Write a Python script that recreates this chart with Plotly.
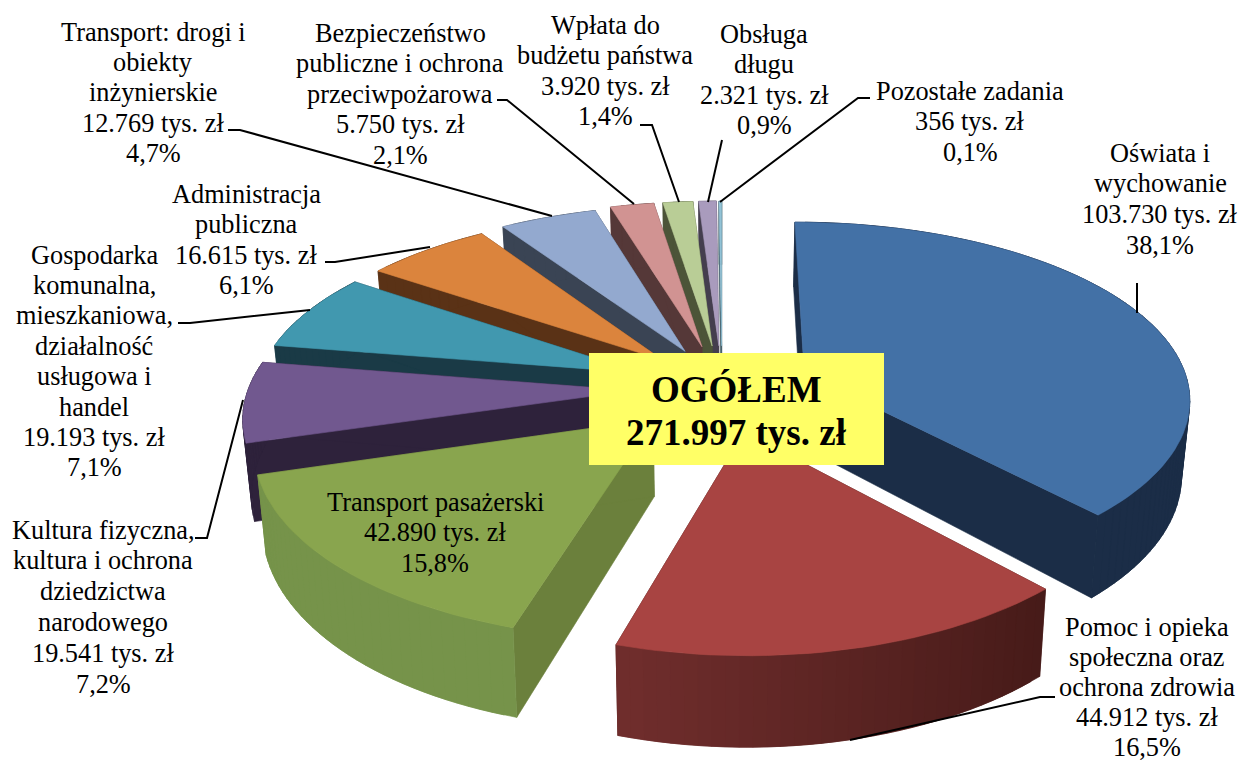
import math
import plotly.graph_objects as go

# ---- data ----
categories = ["Oświata i wychowanie", "Pomoc i opieka społeczna oraz ochrona zdrowia",
              "Transport pasażerski", "Kultura fizyczna, kultura i ochrona dziedzictwa narodowego",
              "Gospodarka komunalna, mieszkaniowa, działalność usługowa i handel",
              "Administracja publiczna", "Transport: drogi i obiekty inżynierskie",
              "Bezpieczeństwo publiczne i ochrona przeciwpożarowa", "Wpłata do budżetu państwa",
              "Obsługa długu", "Pozostałe zadania"]
values = [103730, 44912, 42890, 19541, 19193, 16615, 12769, 5750, 3920, 2321, 356]
value_text = ["103.730", "44.912", "42.890", "19.541", "19.193", "16.615", "12.769", "5.750", "3.920", "2.321", "356"]
percent_text = ["38,1%", "16,5%", "15,8%", "7,2%", "7,1%", "6,1%", "4,7%", "2,1%", "1,4%", "0,9%", "0,1%"]
name_lines = [["Oświata i", "wychowanie"],
              ["Pomoc i opieka", "społeczna oraz", "ochrona zdrowia"],
              ["Transport pasażerski"],
              ["Kultura fizyczna,", "kultura i ochrona", "dziedzictwa", "narodowego"],
              ["Gospodarka", "komunalna,", "mieszkaniowa,", "działalność", "usługowa i", "handel"],
              ["Administracja", "publiczna"],
              ["Transport: drogi i", "obiekty", "inżynierskie"],
              ["Bezpieczeństwo", "publiczne i ochrona", "przeciwpożarowa"],
              ["Wpłata do", "budżetu państwa"],
              ["Obsługa", "długu"],
              ["Pozostałe zadania"]]
total_lines = ["OGÓŁEM", "271.997 tys. zł"]

# ---- style ----
top_colors = ["#4371A6", "#A84442", "#89A54E", "#71588F", "#4198AF", "#DB843D", "#93A9CF", "#D19392", "#B9CD96", "#A99BBD", "#92C3D6"]
wall_left = ["#1B2D47", "#732F2E", "#76934A", "#2E223B", "#1A3A46", "#5A3216", "#3A4454", "#553838", "#4C5438", "#443E4E", "#3F5A64"]
wall_right = ["#1B2D47", "#431917", "#6B803C", "#2E223B", "#1A3A46", "#5A3216", "#3A4454", "#553838", "#4C5438", "#443E4E", "#3F5A64"]
radial_wall = ["#1B2D47", "#451A18", "#6B803C", "#2E223B", "#1A3A46", "#5A3216", "#3A4454", "#553838", "#4C5438", "#443E4E", "#3F5A64"]
explode = [0.232, 0.247, 0.247, 0.23, 0.23, 0.225, 0.235, 0.247, 0.247, 0.247, 0.247]
label_x = [1160, 1147, 435, 103, 94, 246, 153, 400, 605, 764, 970]
label_y = [153, 627, 502, 530, 255, 194, 32, 33, 25, 34, 91]
line_pitch = [30.8, 30, 30.6, 30.8, 30.4, 30.6, 30.4, 30.6, 30.6, 30.6, 30.6]
font_px = 26.3
leaders = [[(1137, 283), (1137, 313)],
           [(1055, 697), (1040, 697), (850, 740)],
           None,
           [(195, 538), (207, 538), (243, 400)],
           [(178, 323), (190, 323), (310, 310)],
           [(325, 262), (335, 262), (430, 247)],
           [(228, 130), (240, 130), (552, 216)],
           [(497, 100), (507, 100), (634, 204)],
           [(640, 125), (652, 125), (679, 202)],
           [(722, 140), (708, 202)],
           [(870, 98), (858, 98), (720, 202)]]

CX, CY, A, B, KX, KY, H, TAPER = 722, 388, 385, 177, 0.13, 0.145, 75, 0.982


def proj(u, v, low=False):
    px, py = 1 / (1 + KX * v), 1 / (1 + KY * v)
    x, y = CX + A * u * px, CY - B * v * py
    if low:
        x, y = CX + (x - CX) * TAPER, y + H * py
    return x, y


def mix(c1, c2, t):
    a = [int(c1[i:i + 2], 16) for i in (1, 3, 5)]
    b = [int(c2[i:i + 2], 16) for i in (1, 3, 5)]
    return "#%02x%02x%02x" % tuple(round(a[i] + (b[i] - a[i]) * t) for i in range(3))


fig = go.Figure()


def poly(points, color):
    xs = [p[0] for p in points] + [points[0][0]]
    ys = [p[1] for p in points] + [points[0][1]]
    fig.add_trace(go.Scatter(x=xs, y=ys, mode="lines", fill="toself", fillcolor=color,
                             line=dict(color=color, width=0.6), hoverinfo="skip", showlegend=False))


total = sum(values)
spans, start = [], 0.0
for val in values:
    spans.append((start, start + val / total * 2 * math.pi))
    start = spans[-1][1]

order = sorted(range(len(values)), key=lambda j: -math.cos(sum(spans[j]) / 2))
for i in order:
    a0, a1 = spans[i]
    mid = (a0 + a1) / 2
    ou, ov = explode[i] * math.sin(mid), explode[i] * math.cos(mid)
    n = max(2, int((a1 - a0) / 0.03))
    rim = [(ou + math.sin(a0 + (a1 - a0) * s / n), ov + math.cos(a0 + (a1 - a0) * s / n)) for s in range(n + 1)]
    # radial walls
    for end in (rim[0], rim[-1]):
        poly([proj(ou, ov), proj(*end), proj(*end, True), proj(ou, ov, True)], radial_wall[i])
    # outer wall with a left-to-right shade
    for s in range(n):
        j = min(s + 2, n)
        x_mid = (rim[s][0] + rim[j][0]) / 2
        t = max(0, min(1, (x_mid + 0.3) / 1.1))
        poly([proj(*rim[s]), proj(*rim[j]), proj(*rim[j], True), proj(*rim[s], True)], mix(wall_left[i], wall_right[i], t))
    # top face
    poly([proj(ou, ov)] + [proj(*q) for q in rim], top_colors[i])

# leader lines
for lead in leaders:
    if lead:
        fig.add_trace(go.Scatter(x=[p[0] for p in lead], y=[p[1] for p in lead], mode="lines",
                                 line=dict(color="black", width=2), hoverinfo="skip", showlegend=False))

annotations = []


def text(x, y, s, size=font_px, bold=False):
    annotations.append(dict(x=x, y=y, xref="x", yref="y", text=f"<b>{s}</b>" if bold else s,
                            showarrow=False, xanchor="center", yanchor="middle",
                            font=dict(family="Liberation Serif", size=size, color="black")))


for i in range(len(values)):
    lines = name_lines[i] + [f"{value_text[i]} tys. zł", percent_text[i]]
    for k, line in enumerate(lines):
        text(label_x[i], label_y[i] + k * line_pitch[i], line)

text(736, 389, total_lines[0], size=37, bold=True)
text(736, 432, total_lines[1], size=37, bold=True)

fig.update_layout(
    width=1242, height=763, margin=dict(l=0, r=0, t=0, b=0),
    paper_bgcolor="white", plot_bgcolor="white", showlegend=False,
    xaxis=dict(range=[0, 1242], visible=False, fixedrange=True),
    yaxis=dict(range=[763, 0], visible=False, fixedrange=True),
    annotations=annotations,
    shapes=[dict(type="rect", x0=589, x1=884, y0=353, y1=465, xref="x", yref="y",
                 fillcolor="#FFFF66", line=dict(width=0), layer="above")],
)
fig.write_html("out.html", config={"displayModeBar": False},
               post_script="document.body.style.margin='0';document.body.style.overflow='hidden';")
